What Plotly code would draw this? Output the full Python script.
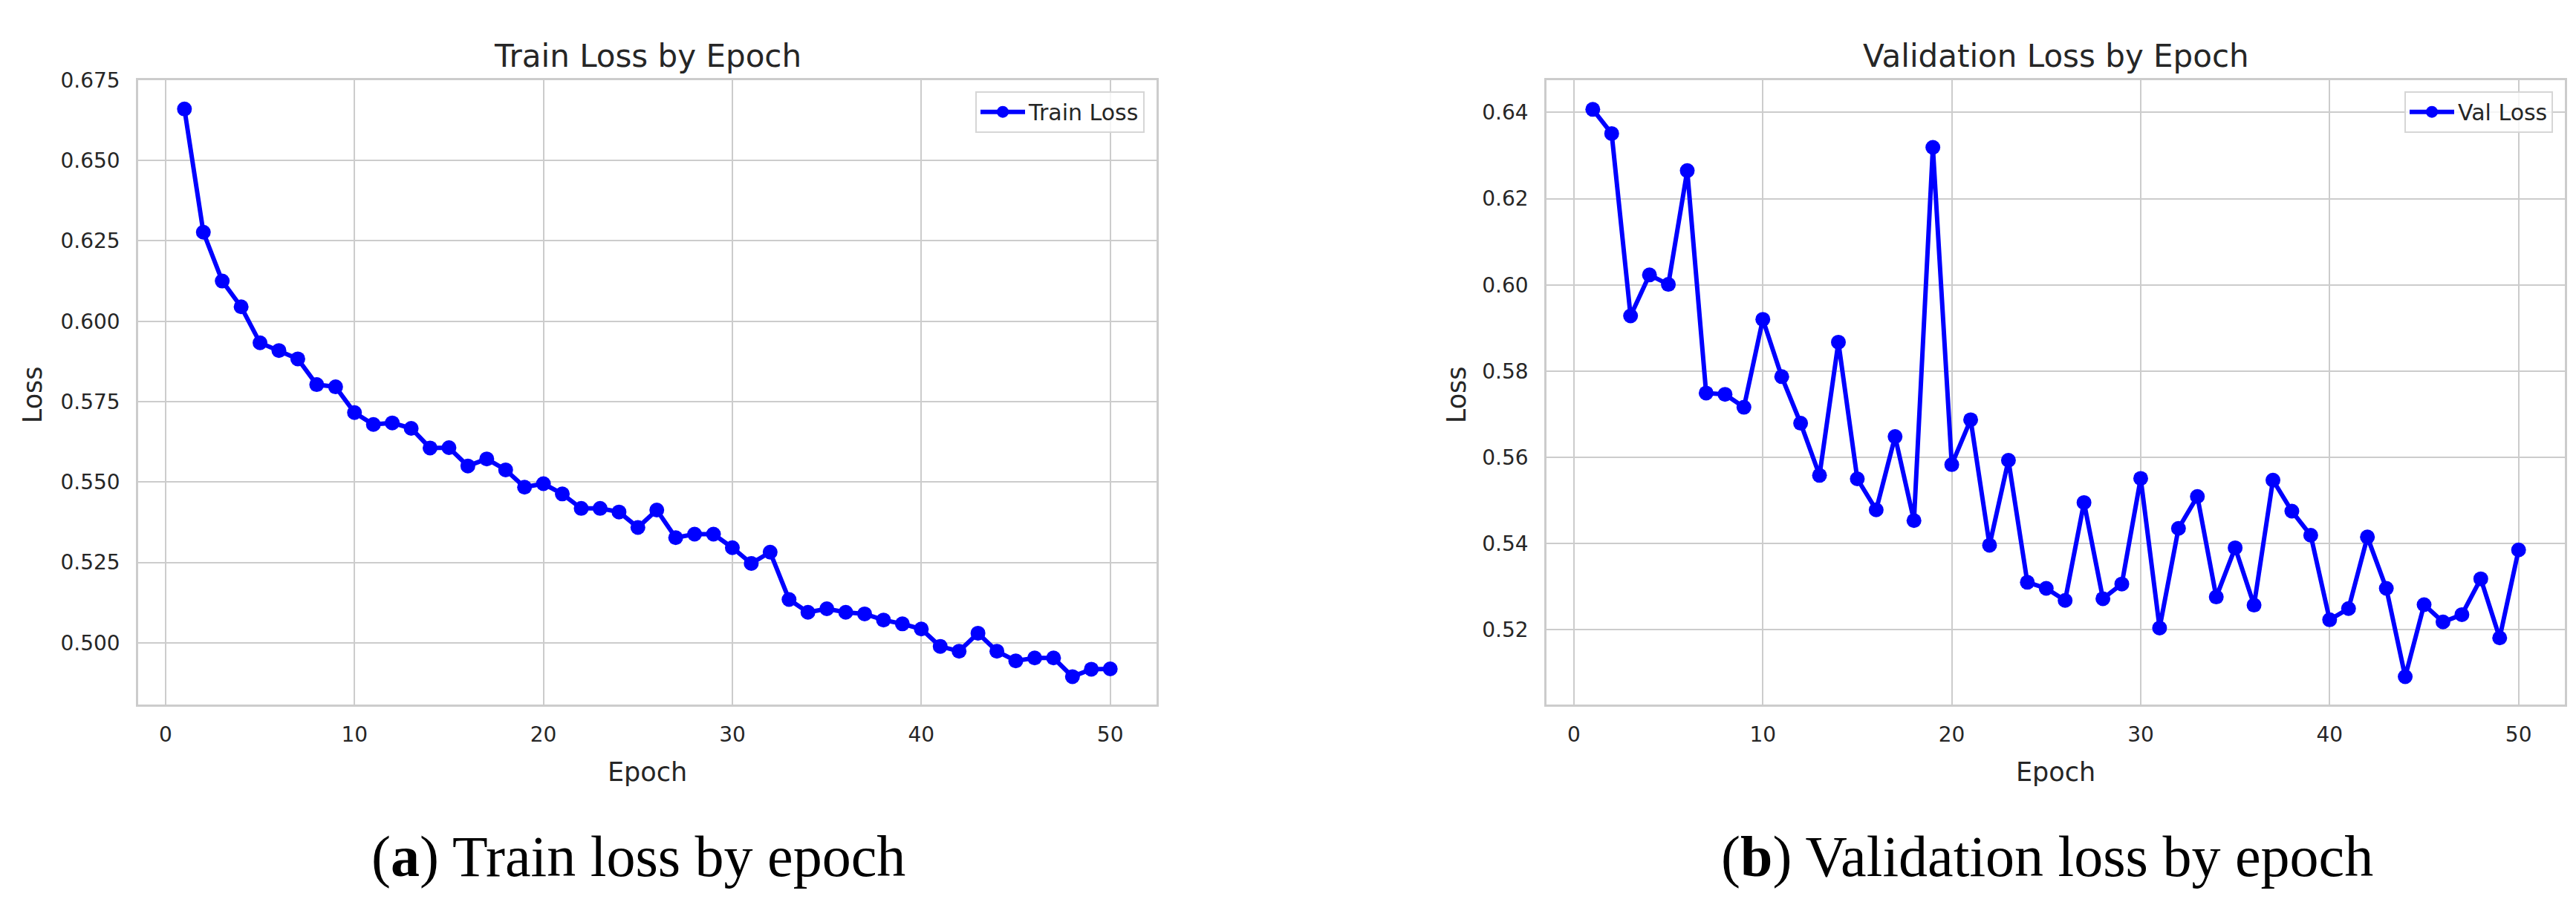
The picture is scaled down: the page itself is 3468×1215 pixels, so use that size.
import plotly.graph_objects as go

W, H = 3468, 1215

epochs = list(range(1, 51))
train_loss = [0.6660, 0.6277, 0.6125, 0.6045, 0.5933, 0.5909, 0.5883, 0.5803, 0.5796, 0.5716,
              0.5679, 0.5684, 0.5667, 0.5606, 0.5607, 0.5550, 0.5572, 0.5538, 0.5484, 0.5495,
              0.5463, 0.5418, 0.5418, 0.5407, 0.5359, 0.5413, 0.5327, 0.5338, 0.5338, 0.5296,
              0.5247, 0.5282, 0.5135, 0.5095, 0.5106, 0.5095, 0.5090, 0.5071, 0.5059, 0.5043,
              0.4989, 0.4974, 0.5030, 0.4974, 0.4944, 0.4953, 0.4953, 0.4895, 0.4918, 0.4919]
val_loss = [0.6407, 0.6351, 0.5928, 0.6023, 0.6001, 0.6265, 0.5749, 0.5746, 0.5716, 0.5920,
            0.5787, 0.5679, 0.5558, 0.5867, 0.5550, 0.5478, 0.5648, 0.5453, 0.6319, 0.5583,
            0.5687, 0.5396, 0.5593, 0.5310, 0.5296, 0.5268, 0.5495, 0.5272, 0.5306, 0.5551,
            0.5204, 0.5435, 0.5509, 0.5276, 0.5390, 0.5257, 0.5547, 0.5475, 0.5419, 0.5223,
            0.5249, 0.5415, 0.5296, 0.5091, 0.5258, 0.5218, 0.5235, 0.5318, 0.5181, 0.5385]

x_ticks = [0, 10, 20, 30, 40, 50]
train_yticks = [0.500, 0.525, 0.550, 0.575, 0.600, 0.625, 0.650, 0.675]
val_yticks = [0.52, 0.54, 0.56, 0.58, 0.60, 0.62, 0.64]

titles = ["Train Loss by Epoch", "Validation Loss by Epoch"]
captions = ["(<b>a</b>) Train loss by epoch", "(<b>b</b>) Validation loss by epoch"]
names = ["Train Loss", "Val Loss"]

def px_x(p):
    return p / W

def px_y(p):
    return 1 - p / H

BLUE = "#0000ff"
GRID = "#cccccc"
TXT = "#262626"
FONT = "DejaVu Sans"

fig = go.Figure()
fig.add_trace(go.Scatter(x=epochs, y=train_loss, mode="lines+markers", name=names[0],
                         line=dict(color=BLUE, width=6), marker=dict(color=BLUE, size=20),
                         xaxis="x", yaxis="y", legend="legend"))
fig.add_trace(go.Scatter(x=epochs, y=val_loss, mode="lines+markers", name=names[1],
                         line=dict(color=BLUE, width=6), marker=dict(color=BLUE, size=20),
                         xaxis="x2", yaxis="y2", legend="legend2"))

axcommon = dict(showgrid=True, gridcolor=GRID, gridwidth=2.3, showline=True, linecolor=GRID,
                linewidth=2.5, mirror=True, zeroline=False, ticks="",
                tickfont=dict(family=FONT, size=28, color=TXT))

left = (178, 1549)
right = (2074, 3445)
top, bottom = 85, 937

legend_common = dict(xanchor="right", yanchor="top", bgcolor="rgba(255,255,255,0.8)",
                     bordercolor="#d6d6d6", borderwidth=2, itemwidth=60,
                     font=dict(family=FONT, size=30, color=TXT))

fig.update_layout(
    width=W, height=H, margin=dict(l=0, r=0, t=0, b=0),
    paper_bgcolor="white", plot_bgcolor="white",
    xaxis=dict(domain=[px_x(left[0]), px_x(left[1])], range=[-1.45, 52.45], tickvals=x_ticks,
               anchor="y", ticklabelstandoff=14, **axcommon),
    yaxis=dict(domain=[px_y(bottom), px_y(top)], range=[0.4809, 0.6750], tickvals=train_yticks,
               tickformat=".3f", anchor="x", ticklabelstandoff=16, **axcommon),
    xaxis2=dict(domain=[px_x(right[0]), px_x(right[1])], range=[-1.45, 52.45], tickvals=x_ticks,
                anchor="y2", ticklabelstandoff=14, **axcommon),
    yaxis2=dict(domain=[px_y(bottom), px_y(top)], range=[0.5027, 0.6475], tickvals=val_yticks,
                tickformat=".2f", anchor="x2", ticklabelstandoff=16, **axcommon),
    legend=dict(x=px_x(1533), y=px_y(100), **legend_common),
    legend2=dict(x=px_x(3429), y=px_y(100), **legend_common),
    showlegend=True,
)

annotations = []
for i, (l, r) in enumerate([left, right]):
    cx = (l + r) / 2
    annotations.append(dict(text=titles[i], x=px_x(cx), y=px_y(52), xref="paper", yref="paper",
                            xanchor="center", yanchor="middle", showarrow=False,
                            font=dict(family=FONT, size=42, color=TXT)))
    annotations.append(dict(text="Epoch", x=px_x(cx), y=px_y(1030), xref="paper", yref="paper",
                            xanchor="center", yanchor="middle", showarrow=False,
                            font=dict(family=FONT, size=35, color=TXT)))
    annotations.append(dict(text=captions[i], x=px_x(cx - 12), y=px_y(1145), xref="paper", yref="paper",
                            xanchor="center", yanchor="middle", showarrow=False,
                            font=dict(family="Liberation Serif", size=78, color="black")))
for xc in [36, 1953]:
    annotations.append(dict(text="Loss", x=px_x(xc), y=px_y(515), xref="paper", yref="paper",
                            xanchor="center", yanchor="middle", showarrow=False, textangle=-90,
                            font=dict(family=FONT, size=35, color=TXT)))
fig.update_layout(annotations=annotations)

fig.write_html("out.html")
